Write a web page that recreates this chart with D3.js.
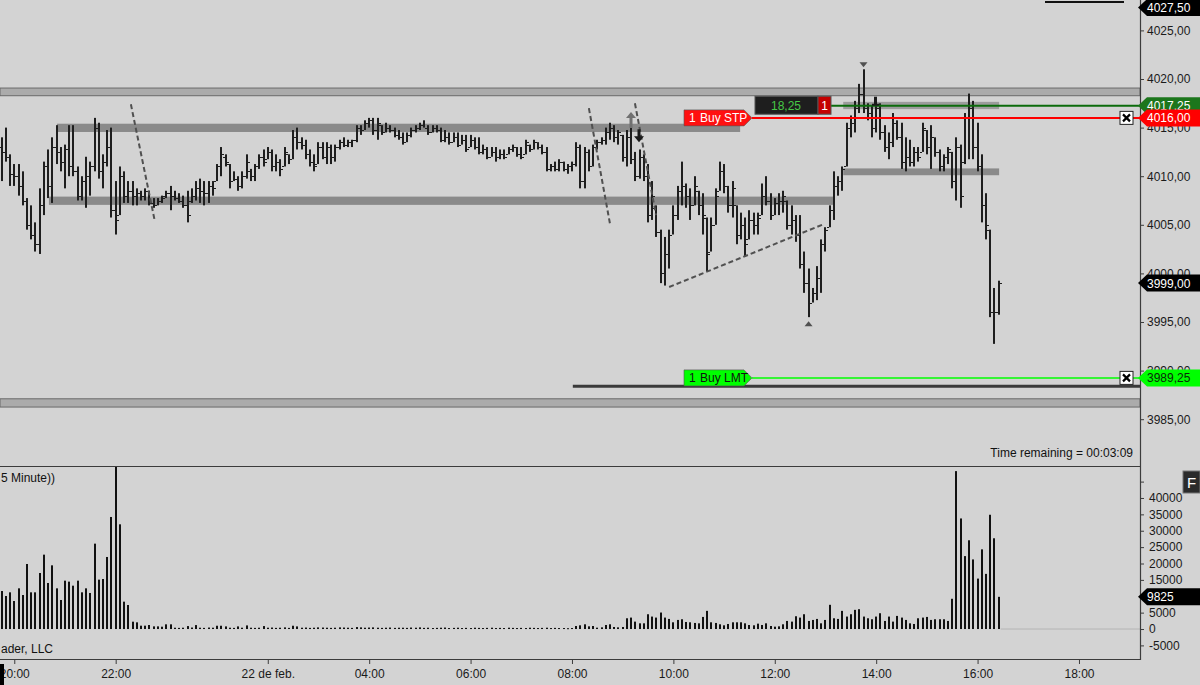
<!DOCTYPE html>
<html><head><meta charset="utf-8">
<script src="https://cdn.jsdelivr.net/npm/d3@7"></script>
<style>
html,body{margin:0;padding:0;background:#d3d3d3;overflow:hidden}
svg{display:block;font-family:"Liberation Sans",Arial,sans-serif}
</style>
</head><body>
<svg id="c" width="1200" height="685"></svg>
<script>
// ---------- DATA (5-minute bars, slot index 0..236) ----------
const opens = [
4013.0,4012.5,4012.0,4010.25,4010.0,4009.0,4007.5,4005.0,4004.0,4003.0,
4007.0,4011.0,4009.0,4013.0,4012.5,4011.5,4012.75,4011.0,4010.5,4008.0,
4009.5,4010.0,4011.0,4015.0,4010.5,4011.5,4013.0,4006.5,4006.0,4010.0,
4008.0,4008.5,4008.0,4008.25,4008.0,4008.5,4007.25,4007.0,4007.5,4008.0,
4008.25,4008.0,4007.75,4007.5,4007.0,4007.5,4008.0,4008.75,4008.5,4008.25,
4009.0,4009.5,4011.0,4012.0,4011.25,4009.5,4009.75,4009.0,4010.0,4010.5,
4010.0,4011.0,4012.0,4011.75,4012.5,4011.0,4011.5,4011.0,4012.25,4011.75,
4014.0,4013.5,4013.25,4012.25,4011.5,4011.25,4013.0,4012.0,4013.0,4012.0,
4013.0,4013.5,4013.25,4013.5,4013.75,4015.0,4014.75,4015.5,4015.75,4014.75,
4015.25,4014.5,4015.0,4014.75,4014.25,4014.0,4013.5,4014.25,4014.75,4015.0,
4015.25,4015.0,4014.5,4015.0,4014.75,4013.75,4014.0,4013.5,4014.0,4013.25,
4013.75,4013.0,4013.75,4013.0,4012.5,4012.75,4012.0,4012.5,4012.0,4012.25,
4012.25,4012.75,4013.0,4012.25,4012.25,4013.25,4012.75,4013.5,4013.0,4012.5,
4010.75,4011.0,4010.75,4011.5,4010.75,4011.0,4011.25,4013.0,4009.5,4012.5,
4011.0,4013.0,4013.5,4013.75,4014.5,4015.0,4014.0,4014.25,4012.0,4014.0,
4011.75,4010.0,4012.0,4010.0,4006.0,4006.75,4004.25,4000.0,4002.0,4004.0,
4006.0,4008.5,4009.0,4008.0,4007.0,4008.5,4007.0,4005.75,4002.25,4005.0,
4008.5,4010.5,4009.0,4007.0,4007.0,4004.0,4005.0,4003.5,4005.5,4005.0,
4006.0,4008.0,4007.5,4006.0,4007.25,4007.5,4007.5,4005.0,4005.5,4004.0,
4001.0,3999.0,3997.0,3998.0,3999.5,4003.0,4004.75,4006.5,4009.0,4009.5,
4011.0,4015.0,4015.5,4017.0,4018.5,4017.0,4016.5,4015.0,4017.0,4014.5,
4013.0,4013.5,4015.5,4014.0,4011.5,4012.0,4011.5,4012.5,4012.5,4014.75,
4013.0,4014.0,4012.5,4011.0,4012.0,4012.5,4009.5,4013.0,4011.5,4016.0,
4017.0,4013.0,4011.0,4007.0,4004.5,3996.0,3996.0];
const highs = [
4014.0,4015.0,4012.25,4011.25,4011.25,4010.5,4007.75,4007.0,4005.25,4008.75,
4011.5,4012.75,4014.0,4015.25,4013.0,4013.25,4015.25,4015.25,4011.0,4010.0,
4012.0,4011.5,4016.0,4015.5,4012.25,4014.75,4015.0,4009.5,4011.0,4010.5,
4009.5,4009.5,4008.75,4008.5,4008.75,4008.5,4007.75,4007.75,4008.0,4008.5,
4009.0,4008.5,4008.25,4008.0,4008.5,4008.75,4009.5,4009.75,4009.5,4009.5,
4009.5,4011.25,4013.0,4012.25,4011.25,4010.5,4010.0,4010.5,4012.25,4010.75,
4011.25,4012.25,4012.75,4013.0,4012.75,4012.25,4011.75,4013.0,4012.25,4014.75,
4015.0,4014.0,4013.75,4012.75,4012.25,4013.5,4013.5,4013.5,4013.25,4013.25,
4013.75,4014.0,4013.75,4013.75,4015.25,4015.25,4015.75,4016.0,4016.0,4016.0,
4015.25,4015.5,4015.25,4015.0,4014.75,4014.5,4014.5,4015.0,4015.25,4015.5,
4015.75,4015.25,4015.25,4015.25,4015.0,4014.75,4014.5,4014.5,4014.5,4014.25,
4014.25,4014.25,4014.0,4014.0,4013.25,4013.0,4013.0,4013.0,4012.75,4012.75,
4013.0,4013.25,4013.0,4013.0,4013.75,4013.25,4013.75,4013.5,4013.25,4013.0,
4011.25,4011.5,4011.75,4011.5,4011.25,4011.5,4013.5,4013.25,4013.0,4012.75,
4013.25,4013.75,4014.0,4015.0,4015.5,4015.25,4014.75,4014.25,4014.75,4016.25,
4012.5,4012.75,4012.25,4011.25,4009.5,4007.0,4004.5,4003.75,4004.5,4007.0,
4009.0,4011.5,4009.25,4008.75,4010.0,4008.5,4008.25,4005.75,4005.75,4008.75,
4011.5,4011.25,4009.0,4009.5,4007.0,4006.25,4005.75,4006.5,4006.25,4006.25,
4009.25,4010.0,4008.25,4007.75,4008.25,4008.5,4007.5,4007.0,4006.0,4006.0,
4002.25,4000.5,3998.5,4000.75,4003.5,4004.75,4007.0,4010.5,4010.0,4011.0,
4015.5,4016.25,4017.75,4019.5,4021.0,4017.5,4017.25,4018.0,4017.5,4015.25,
4014.5,4016.5,4015.75,4015.5,4014.0,4013.75,4013.0,4013.0,4015.5,4014.75,
4015.25,4014.0,4012.75,4012.25,4013.0,4012.5,4014.0,4013.25,4016.5,4018.5,
4017.75,4015.5,4012.25,4008.25,4004.5,3998.5,3999.25];
const lows = [
4009.5,4011.5,4009.0,4009.0,4008.0,4007.0,4004.5,4003.5,4002.25,4002.0,
4006.0,4007.75,4007.25,4011.25,4010.5,4008.75,4010.0,4010.0,4007.5,4007.5,
4006.75,4008.0,4010.5,4009.75,4008.75,4011.0,4005.75,4004.0,4006.0,4007.25,
4007.25,4007.0,4007.0,4007.5,4007.5,4007.0,4006.75,4007.0,4007.25,4007.75,
4006.5,4007.5,4007.25,4006.75,4005.25,4007.25,4007.5,4007.25,4007.0,4007.25,
4008.0,4009.5,4010.0,4011.0,4008.75,4009.5,4008.5,4008.75,4009.75,4009.5,
4009.5,4010.75,4011.0,4011.75,4010.5,4010.5,4010.0,4011.0,4011.25,4011.75,
4012.75,4012.75,4011.75,4011.0,4010.5,4011.25,4011.75,4011.25,4011.25,4011.5,
4012.75,4013.0,4013.0,4013.0,4013.5,4014.25,4014.75,4015.0,4014.25,4013.75,
4014.25,4014.5,4014.5,4014.0,4013.75,4013.25,4013.5,4014.0,4014.5,4014.75,
4015.0,4014.25,4014.5,4014.5,4013.5,4013.5,4013.25,4013.5,4013.0,4013.25,
4012.5,4013.0,4012.75,4012.25,4012.25,4011.75,4012.0,4011.5,4011.75,4011.75,
4012.25,4012.5,4012.0,4011.75,4012.25,4012.5,4012.75,4012.75,4012.25,4010.5,
4010.5,4010.5,4010.5,4010.5,4010.25,4010.5,4011.0,4008.75,4008.75,4010.5,
4011.0,4012.75,4013.25,4013.25,4013.75,4013.5,4013.25,4011.5,4011.0,4011.25,
4009.5,4009.75,4009.5,4005.25,4005.5,4003.75,3999.0,3998.75,4000.5,4004.0,
4005.5,4007.0,4006.75,4005.5,4007.0,4006.0,4004.0,4000.25,4002.25,4005.0,
4008.5,4008.25,4006.25,4005.75,4003.0,4003.5,4001.75,4003.5,4004.0,4004.0,
4006.0,4007.0,4005.5,4006.0,4006.0,4006.25,4004.5,4004.0,4003.25,4000.5,
3998.0,3995.5,3997.0,3997.25,3998.0,4002.25,4004.75,4005.5,4008.0,4008.5,
4011.0,4014.0,4014.5,4016.5,4016.5,4015.75,4014.0,4014.5,4013.75,4012.5,
4011.75,4013.0,4013.75,4010.75,4010.5,4011.0,4011.0,4011.5,4012.5,4012.25,
4010.75,4012.0,4010.5,4010.5,4011.25,4008.75,4007.5,4006.75,4011.25,4011.75,
4011.75,4010.5,4005.25,4003.5,3995.5,3992.75,3995.75];
const closes = [
4012.5,4012.0,4010.25,4010.0,4009.0,4007.5,4005.0,4004.0,4003.0,4007.0,
4011.0,4009.0,4013.0,4012.5,4011.5,4012.75,4011.0,4010.5,4008.0,4009.5,
4010.0,4011.0,4015.0,4010.5,4011.5,4013.0,4006.5,4005.5,4010.0,4008.0,
4008.5,4008.0,4008.25,4008.0,4008.5,4007.25,4007.0,4007.5,4007.75,4008.25,
4008.0,4007.75,4007.5,4007.0,4006.0,4008.0,4008.75,4008.5,4008.25,4009.0,
4008.75,4011.0,4012.25,4011.5,4009.5,4009.75,4009.0,4010.0,4011.5,4010.0,
4011.0,4012.0,4011.5,4012.5,4011.0,4011.5,4010.75,4012.5,4011.75,4014.0,
4013.5,4013.25,4012.25,4011.5,4011.0,4013.0,4012.0,4013.0,4012.0,4013.0,
4013.5,4013.25,4013.5,4013.75,4015.0,4014.75,4015.5,4015.75,4014.75,4015.5,
4014.5,4015.0,4014.75,4014.25,4014.0,4013.5,4014.25,4014.75,4015.0,4015.25,
4015.0,4014.5,4015.0,4014.75,4013.75,4014.0,4013.5,4014.0,4013.25,4013.75,
4012.75,4013.75,4013.0,4012.5,4012.75,4012.0,4012.5,4012.0,4012.25,4012.0,
4012.75,4013.0,4012.25,4012.0,4013.5,4012.75,4013.5,4013.0,4012.5,4010.75,
4011.0,4010.75,4011.5,4010.75,4011.0,4011.25,4013.0,4009.5,4012.5,4011.0,
4013.0,4013.5,4013.75,4014.5,4015.0,4014.0,4014.5,4012.0,4014.0,4011.75,
4010.0,4012.0,4010.0,4006.0,4008.0,4004.25,4000.0,4002.0,4004.0,4006.0,
4008.5,4009.0,4008.0,4007.0,4009.0,4007.0,4006.0,4002.0,4005.0,4008.0,
4010.5,4009.0,4007.0,4008.75,4004.0,4005.0,4003.0,4005.5,4005.0,4005.75,
4008.0,4007.5,4006.0,4007.25,4007.5,4008.0,4005.0,4005.5,4004.0,4001.0,
3999.0,3997.0,3998.0,3999.5,4003.0,4004.5,4006.5,4009.0,4009.5,4010.75,
4015.0,4015.5,4017.0,4018.5,4017.0,4016.5,4015.0,4017.0,4014.5,4013.0,
4013.5,4015.5,4014.0,4011.5,4012.0,4011.5,4012.5,4012.0,4015.0,4013.0,
4014.0,4012.5,4011.0,4012.0,4012.75,4009.5,4013.0,4008.0,4016.0,4017.0,
4013.0,4011.0,4007.0,4005.0,3996.0,3996.0,3999.0];
const volumes = [
11600,10080,11200,8550,12420,10380,19850,11200,11200,17100,
22700,14050,19440,12420,8860,14760,14460,13230,14760,11200,
12420,11000,26060,15070,15270,21990,34200,52000,31960,8350,
7330,2240,2040,1020,1020,1220,810,810,710,1430,
1430,400,350,400,900,450,1200,400,350,450,
400,1000,1000,800,400,350,800,400,1100,400,
350,400,900,400,450,350,400,500,350,1000,
800,400,450,350,400,500,450,400,350,400,
500,450,400,350,600,500,400,450,500,400,
350,400,450,350,400,400,350,450,400,500,
350,400,300,350,400,450,300,350,400,300,
350,300,400,350,300,350,400,300,350,300,
400,350,300,350,300,400,350,300,350,400,
300,350,300,300,250,300,920,1130,1440,820,
920,410,510,1230,1440,620,510,620,3280,3490,
2260,1740,1740,4510,3800,3490,5030,3490,3080,2050,
2770,2980,2150,2050,1850,1740,3690,5540,2050,1850,
1440,1130,1540,2050,2050,2050,1740,1230,1130,1640,
1230,1740,920,720,820,1440,2460,2260,3900,3490,
4510,2460,2770,3080,1740,2770,7390,3280,3080,5540,
3800,4510,5850,6050,3800,3280,2980,3800,4820,2460,
3800,2260,4000,3490,2770,1740,1540,3280,3490,3690,
2770,2980,2980,2980,2460,9230,48200,33750,22260,27090,
21240,15390,24320,16830,34880,27700,9825];

// time-axis ticks (slot index -> label)
const tickSlots  = [3, 27, 63, 87, 111, 135, 159, 183, 207, 231, 255];
const tickLabels = ["20:00","22:00","22 de feb.","04:00","06:00","08:00","10:00","12:00","14:00","16:00","18:00"];
const priceTicks = [3985,3990,3995,4000,4005,4010,4015,4020,4025];
const volTicks   = [-5000,0,5000,10000,15000,20000,25000,30000,35000,40000,45000];
const volLabelled = [-5000,0,5000,15000,20000,25000,30000,35000,40000];

// horizontal zones [priceTop, priceBottom, slotStart, slotEnd]
const zonesDark  = [[4015.4,4014.55,13.1,174.8],[4007.9,4007.05,11.2,196.8],[4010.8,4010.1,199.2,236.1]];
const zonesLight = [[4017.65,4016.9,199.2,236.1]];
const sessionBands = [[4019.07,4018.28],[3987.1,3986.25]];
const supportLine = [3988.4, 135.2];
// dashed trend lines [slot1, price1, slot2, price2]
const trendLines = [[30.6,4017.4,36.3,4005.3],[139.0,4017.0,144.0,4005.1],[149.9,4017.5,154.9,4006.0],[158.0,3998.6,194.2,4005.0]];

// orders / position
const stopPrice = 4016.00, limitPrice = 3989.25, posPrice = 4017.25, lastPrice = 3999.00, topPrice = 4027.50;
const pnlText = "18,25", qtyText = "1";
const lastVolume = 9825;

// ---------- CHART ----------
const svg = d3.select("#c");
const W = 1200, H = 685, AX = 1140;
const x  = d3.scaleLinear().domain([0, 236]).range([1.6, 998.7]);
const y  = d3.scaleLinear().domain([3980, 4027.5]).range([467.8, 6.1]);
const yv = d3.scaleLinear().domain([-5000, 45000]).range([645.4, 481.6]);
const fmtP = d => d3.format(".2f")(d).replace(".", ",");

svg.append("rect").attr("width", W).attr("height", H).attr("fill", "#d3d3d3");

const defs = svg.append("defs");
defs.append("clipPath").attr("id","cp").append("rect").attr("x",0).attr("y",0).attr("width",AX).attr("height",466);
defs.append("clipPath").attr("id","cv").append("rect").attr("x",0).attr("y",467).attr("width",AX).attr("height",192);

const gp = svg.append("g").attr("clip-path","url(#cp)");
const gv = svg.append("g").attr("clip-path","url(#cv)");

// session bands
gp.selectAll(".sb").data(sessionBands).join("rect")
  .attr("x",0).attr("width",AX)
  .attr("y",d=>y(d[0])).attr("height",d=>y(d[1])-y(d[0]))
  .attr("fill","#ababab").attr("stroke","#6a6a6a").attr("stroke-width",1);

// zones
gp.selectAll(".zd").data(zonesDark).join("rect")
  .attr("x",d=>x(d[2])).attr("width",d=>x(d[3])-x(d[2]))
  .attr("y",d=>y(d[0])).attr("height",d=>y(d[1])-y(d[0]))
  .attr("fill","#8a8a8a");
gp.selectAll(".zl").data(zonesLight).join("rect")
  .attr("x",d=>x(d[2])).attr("width",d=>x(d[3])-x(d[2]))
  .attr("y",d=>y(d[0])).attr("height",d=>y(d[1])-y(d[0]))
  .attr("fill","#9c9c9c");

// support line
gp.append("line").attr("x1",x(supportLine[1])).attr("x2",AX)
  .attr("y1",y(supportLine[0])).attr("y2",y(supportLine[0]))
  .attr("stroke","#3a3a3a").attr("stroke-width",3);

// OHLC bars
const bars = d3.range(highs.length);
const gb = gp.append("g").attr("fill","#1e1e1e");
gb.selectAll(".hl").data(bars).join("rect")
  .attr("x",i=>Math.round(x(i))-1).attr("width",2)
  .attr("y",i=>y(highs[i])).attr("height",i=>Math.max(1,y(lows[i])-y(highs[i])));
gb.selectAll(".op").data(bars).join("rect")
  .attr("x",i=>Math.round(x(i))-3).attr("width",2)
  .attr("y",i=>Math.round(y(opens[i]))).attr("height",1);
gb.selectAll(".cl").data(bars).join("rect")
  .attr("x",i=>Math.round(x(i))+1).attr("width",2)
  .attr("y",i=>Math.round(y(closes[i]))).attr("height",1);

// dashed trend lines
gp.selectAll(".tl").data(trendLines).join("line")
  .attr("x1",d=>x(d[0])).attr("y1",d=>y(d[1])).attr("x2",d=>x(d[2])).attr("y2",d=>y(d[3]))
  .attr("stroke","#505050").attr("stroke-width",2).attr("stroke-dasharray","5,3");

// markers: up/down arrows and swing triangles
function upArrow(g, cx, ty, col){
  g.append("path").attr("d",`M${cx},${ty} L${cx+5},${ty+6} L${cx+1.5},${ty+6} L${cx+1.5},${ty+16} L${cx-1.5},${ty+16} L${cx-1.5},${ty+6} L${cx-5},${ty+6}Z`).attr("fill",col);
}
function downArrow(g, cx, by, col){
  g.append("path").attr("d",`M${cx},${by} L${cx+5},${by-6} L${cx+1.5},${by-6} L${cx+1.5},${by-13} L${cx-1.5},${by-13} L${cx-1.5},${by-6} L${cx-5},${by-6}Z`).attr("fill",col);
}
upArrow(gp, Math.round(x(149)), y(highs[149])-3.5, "#707070");
downArrow(gp, Math.round(x(151))-1, y(4013.5), "#1a1a1a");
const hiIdx = 204, loIdx = 191;
gp.append("path").attr("d",`M${x(hiIdx)-4},${y(highs[hiIdx])-7} L${x(hiIdx)+4},${y(highs[hiIdx])-7} L${x(hiIdx)},${y(highs[hiIdx])-2}Z`).attr("fill","#505050");
gp.append("path").attr("d",`M${x(loIdx)-4},${y(lows[loIdx])+9} L${x(loIdx)+4},${y(lows[loIdx])+9} L${x(loIdx)},${y(lows[loIdx])+4}Z`).attr("fill","#505050");

// position line (green) + PnL box
const yPos = y(posPrice), yStp = y(stopPrice), yLmt = y(limitPrice);
gp.append("line").attr("x1",831).attr("x2",AX).attr("y1",yPos).attr("y2",yPos).attr("stroke","#0b6b0b").attr("stroke-width",2);
// execution marker
gp.append("rect").attr("x",Math.round(x(207))-2).attr("y",yPos-9).attr("width",3).attr("height",8).attr("fill","#1a1a1a");
gp.append("rect").attr("x",Math.round(x(207))-4).attr("y",yPos-2).attr("width",7).attr("height",2).attr("fill","#1a1a1a");
gp.append("rect").attr("x",755).attr("y",yPos-9.5).attr("width",63).attr("height",18).attr("fill","#1e1e1e").attr("stroke","#555");
gp.append("text").attr("x",786).attr("y",yPos+4.5).attr("text-anchor","middle").attr("font-size",12).attr("fill","#46c846").text(pnlText);
gp.append("rect").attr("x",818).attr("y",yPos-9.5).attr("width",13).attr("height",18).attr("fill","#c40000").attr("stroke","#555");
gp.append("text").attr("x",824.5).attr("y",yPos+4.5).attr("text-anchor","middle").attr("font-size",12).attr("fill","#fff").text(qtyText);

// stop / limit order lines
gp.append("line").attr("x1",752).attr("x2",AX).attr("y1",yStp).attr("y2",yStp).attr("stroke","#ff0000").attr("stroke-width",2);
gp.append("line").attr("x1",752).attr("x2",AX).attr("y1",yLmt).attr("y2",yLmt).attr("stroke","#00ff00").attr("stroke-width",1.5);
function orderTag(yc, fill, fg, qty, txt){
  gp.append("path").attr("d",`M684,${yc-8} L744,${yc-8} L752,${yc} L744,${yc+8} L684,${yc+8}Z`).attr("fill",fill).attr("stroke","#555").attr("stroke-width",0.6);
  gp.append("text").attr("x",689).attr("y",yc+4.5).attr("font-size",12).attr("fill",fg).text(qty);
  gp.append("text").attr("x",700).attr("y",yc+4.5).attr("font-size",12).attr("fill",fg).text(txt);
}
orderTag(yStp, "#ff1010", "#fff", "1", "Buy STP");
orderTag(yLmt, "#00ff00", "#111", "1", "Buy LMT");
function closeBox(yc){
  gp.append("rect").attr("x",1120).attr("y",yc-6.5).attr("width",13).attr("height",13).attr("fill","#fff").attr("stroke","#222");
  gp.append("path").attr("d",`M1123,${yc-3.5} L1130,${yc+3.5} M1130,${yc-3.5} L1123,${yc+3.5}`).attr("stroke","#000").attr("stroke-width",2.2);
}
closeBox(yStp); closeBox(yLmt);

// top-right line
svg.append("line").attr("x1",1045).attr("x2",1124).attr("y1",2).attr("y2",2).attr("stroke","#111").attr("stroke-width",2);

// time remaining
svg.append("text").attr("x",1133).attr("y",457).attr("text-anchor","end").attr("font-size",12).attr("fill","#111").text("Time remaining = 00:03:09");

// ---------- VOLUME ----------
gv.append("line").attr("x1",x(236)+2).attr("x2",AX).attr("y1",yv(0)).attr("y2",yv(0)).attr("stroke","#b4b4b4").attr("stroke-width",1);
gv.selectAll(".v").data(bars).join("rect")
  .attr("x",i=>Math.round(x(i))-1).attr("width",2)
  .attr("y",i=>yv(volumes[i])).attr("height",i=>Math.max(1,yv(0)-yv(volumes[i])))
  .attr("fill","#111");
gv.append("text").attr("x",1).attr("y",482).attr("font-size",12).attr("fill","#111").text("5 Minute))");
gv.append("text").attr("x",1).attr("y",653).attr("font-size",12).attr("fill","#111").text("ader, LLC");

// ---------- AXES ----------
svg.append("line").attr("x1",0).attr("x2",AX).attr("y1",466.5).attr("y2",466.5).attr("stroke","#3c3c3c").attr("stroke-width",1.2);
svg.append("line").attr("x1",0).attr("x2",AX).attr("y1",659.5).attr("y2",659.5).attr("stroke","#3c3c3c").attr("stroke-width",1.2);
svg.append("line").attr("x1",AX+0.5).attr("x2",AX+0.5).attr("y1",0).attr("y2",660).attr("stroke","#3c3c3c").attr("stroke-width",1.2);

function styleAxis(g){
  g.select(".domain").remove();
  g.selectAll("text").attr("font-size",12).attr("fill","#1a1a1a").attr("font-family",'"Liberation Sans",Arial,sans-serif');
  g.selectAll("line").attr("stroke","#3c3c3c");
}
svg.append("g").attr("transform",`translate(${AX},0)`)
  .call(d3.axisRight(y).tickValues(priceTicks).tickFormat(fmtP).tickSize(4).tickPadding(3)).call(styleAxis);
svg.append("g").attr("transform",`translate(${AX},0)`)
  .call(d3.axisRight(yv).tickValues(volTicks).tickFormat(d=>volLabelled.includes(d)?String(d):"").tickSize(4).tickPadding(5)).call(styleAxis);
svg.append("g").attr("transform",`translate(0,659)`)
  .call(d3.axisBottom(x).tickValues(tickSlots).tickFormat((d,i)=>tickLabels[i]).tickSize(5).tickPadding(5)).call(styleAxis);

// right-axis flags
function flag(yc, fill, fg, txt){
  svg.append("path").attr("d",`M${AX-2},${yc} L${AX+7},${yc-8.5} L1200,${yc-8.5} L1200,${yc+8.5} L${AX+7},${yc+8.5}Z`).attr("fill",fill);
  svg.append("text").attr("x",1147).attr("y",yc+4.5).attr("font-size",12).attr("fill",fg).text(txt);
}
flag(y(topPrice)+1.5, "#000", "#fff", fmtP(topPrice));
flag(yPos, "#1c761c", "#fff", "4017.25");
flag(yStp, "#ff0000", "#fff", fmtP(stopPrice));
flag(y(lastPrice), "#000", "#fff", fmtP(lastPrice));
flag(yLmt, "#00ff00", "#0a2a0a", fmtP(limitPrice));
flag(yv(lastVolume), "#000", "#fff", String(lastVolume));

// F button
svg.append("rect").attr("x",1183).attr("y",471).attr("width",17).attr("height",22).attr("fill","#2b2b2b").attr("stroke","#777");
svg.append("text").attr("x",1191.5).attr("y",488).attr("text-anchor","middle").attr("font-size",15).attr("fill","#fff").text("F");
// corner mark
svg.append("rect").attr("x",0).attr("y",664).attr("width",4).attr("height",21).attr("fill","#000");
</script>
</body></html>
